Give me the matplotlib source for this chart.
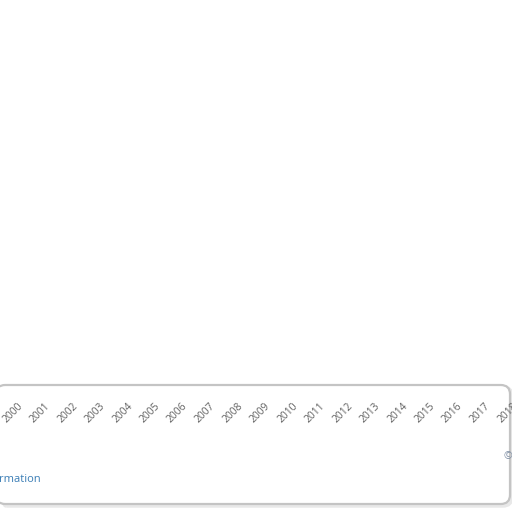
import matplotlib
matplotlib.use("Agg")
import matplotlib.pyplot as plt
import matplotlib.transforms as mtransforms
from matplotlib.patches import FancyBboxPatch

# ---------------------------------------------------------------- data
years = list(range(2000, 2019))
year_labels = [str(y) for y in years]
info_text = "rmation"
credit_text = "©"

W = H = 512
plt.rcParams["font.family"] = ["Open Sans", "DejaVu Sans"]

fig = plt.figure(figsize=(W / 100, H / 100), dpi=100)
fig.patch.set_facecolor("white")


def fx(px):
    return px / W


def fy(py):
    return 1 - py / H


# rounded panel at the bottom
shadow = FancyBboxPatch((fx(-3), fy(506)), fx(512) - fx(-3), fy(387) - fy(506),
                        boxstyle="round,pad=0,rounding_size=0.018",
                        transform=fig.transFigure, facecolor="none",
                        edgecolor="#e8e8e8", lw=2.5, zorder=0)
box = FancyBboxPatch((fx(-4), fy(504)), fx(510) - fx(-4), fy(385) - fy(504),
                     boxstyle="round,pad=0,rounding_size=0.018",
                     transform=fig.transFigure, facecolor="white",
                     edgecolor="#c4c4c4", lw=1.6, zorder=0.5)
fig.patches.extend([shadow, box])

# year axis: 2000 sits at x=8px, 2018 at x=503px
px_per_year = (503 - 8) / (years[-1] - years[0])
x0 = years[0] - 8 / px_per_year
x1 = x0 + W / px_per_year
ax = fig.add_axes([0, fy(396), 1, 0.001], zorder=5)
ax.set_xlim(x0, x1)
ax.set_xticks(years)
ax.set_xticklabels(year_labels, rotation=45, ha="right", va="top",
                   rotation_mode="anchor", fontsize=7.4, color="#606060")
ax.tick_params(axis="x", length=0, pad=2)
ax.set_yticks([])
for s in ax.spines.values():
    s.set_visible(False)
ax.patch.set_alpha(0)
shift = mtransforms.ScaledTranslation(0.09, -0.02, fig.dpi_scale_trans)
for lab in ax.get_xticklabels():
    lab.set_transform(lab.get_transform() + shift)

t1 = fig.text(fx(-1), fy(479), info_text, fontsize=8, color="#3a7db5",
              ha="left", va="center")
t2 = fig.text(fx(503), fy(457), credit_text, fontsize=7.5, color="#7a8aa0",
              ha="left", va="center")
t1.set_zorder(6)
t2.set_zorder(6)

fig.savefig("out.png", dpi=100, facecolor="white")
